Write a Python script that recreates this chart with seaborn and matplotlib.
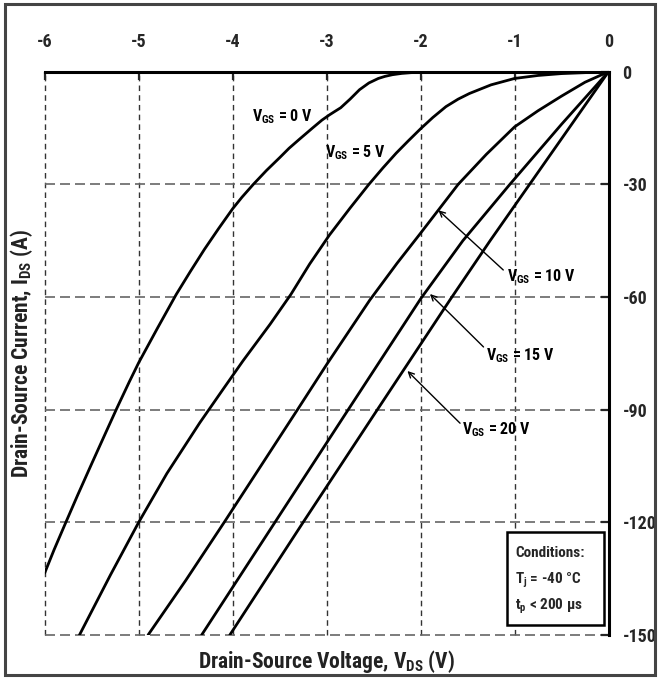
import numpy as np
import pandas as pd
import matplotlib
matplotlib.use("Agg")
import matplotlib.pyplot as plt
import seaborn as sns
from matplotlib.patches import Rectangle
from matplotlib import font_manager as fm

# ---------------- data ----------------
vds_0 = [0, -1.0, -1.6, -2.0, -2.1, -2.2, -2.3, -2.38, -2.45, -2.55, -2.65, -2.75, -2.85,
         -2.92, -2.97, -3.05, -3.15, -3.29, -3.4, -3.5, -3.64, -3.78, -3.9, -4.0, -4.15,
         -4.3, -4.45, -4.6, -4.8, -5.0, -5.1, -5.23, -5.35, -5.5, -5.65, -5.78, -5.9, -6.0]
ids_0 = [0, -0.03, -0.1, -0.2, -0.25, -0.45, -0.8, -1.25, -1.8, -3.0, -4.8, -7.3, -9.6,
         -10.7, -11.5, -12.9, -15.0, -18, -20.4, -22.9, -26.3, -30, -33.4, -36.5, -41.8,
         -47.3, -53.2, -59.3, -68.3, -77.5, -82.6, -89.5, -96.1, -104.4, -112.8, -120.3,
         -127.3, -133.5]

vds_5 = [0, -0.5, -0.75, -1.0, -1.25, -1.48, -1.6, -1.73, -1.87, -2.0, -2.13, -2.26,
         -2.4, -2.55, -2.75, -2.97, -3.18, -3.38, -3.6, -3.89, -4.1, -4.35, -4.7, -5.0,
         -5.3, -5.63]
ids_5 = [0, -0.5, -1.0, -1.8, -3.5, -5.8, -7.3, -9.3, -12.2, -15.2, -18.4, -21.7,
         -25.6, -30, -36.3, -43.5, -51.2, -59.3, -67.2, -77, -84.5, -93.5, -107, -120,
         -134, -150]

vds_10 = [0, -0.25, -0.5, -0.75, -1.0, -1.3, -1.6, -1.8, -2.0, -2.25, -2.54, -3.0,
          -3.31, -3.7, -4.09, -4.5, -4.9]
ids_10 = [0, -2.8, -6.5, -10.4, -14.7, -22, -30, -36.5, -43, -51, -60.8, -78,
          -90, -105, -120, -135.5, -150]

vds_15 = [0, -0.5, -1.05, -1.55, -2.0, -2.77, -3.55, -4.33]
ids_15 = [0, -14, -30, -45, -60.5, -90, -120, -150]

vds_20 = [0, -0.42, -0.84, -1.26, -1.68, -2.46, -3.25, -4.03]
ids_20 = [0, -15, -30, -45, -60.5, -90, -120, -150]

vgs_values = [0, 5, 10, 15, 20]
x_ticks = [-6, -5, -4, -3, -2, -1, 0]
y_ticks = [0, -30, -60, -90, -120, -150]


# ---------------- font choice (condensed look like the reference) ----------------
def pick_font():
    fl = fm.fontManager.ttflist
    names = {f.name for f in fl}
    for n in ["Liberation Sans Narrow", "Roboto Condensed", "Open Sans Condensed",
              "DejaVu Sans Condensed", "Noto Sans Condensed"]:
        if n in names:
            return n, "normal"
    for n in ["Open Sans", "Noto Sans", "DejaVu Sans"]:
        for f in fl:
            if f.name == n and "condensed" in str(f.stretch):
                return n, "condensed"
    return "Roboto", "normal"


FONT, STRETCH = pick_font()

sns.set_style("white")
plt.rcParams["font.family"] = [FONT, "DejaVu Sans"]
plt.rcParams["font.stretch"] = STRETCH
plt.rcParams["font.weight"] = "bold"
plt.rcParams["mathtext.default"] = "regular"

frames = []
for v, xs, ys in zip(vgs_values, [vds_0, vds_5, vds_10, vds_15, vds_20],
                     [ids_0, ids_5, ids_10, ids_15, ids_20]):
    frames.append(pd.DataFrame({"Vds": xs, "Ids": ys, "Vgs": v}))
df = pd.concat(frames, ignore_index=True)

fig = plt.figure(figsize=(6.6, 6.79), dpi=100)
ax = fig.add_axes([0.0677, 0.0648, 0.8543, 0.8296])

sns.lineplot(data=df, x="Vds", y="Ids", hue="Vgs", units="Vgs", estimator=None,
             sort=False, palette=["black"] * 5, linewidth=2.0, legend=False, ax=ax)

ax.set_xlim(-6, 0)
ax.set_ylim(-150, 0)
ax.xaxis.tick_top()
ax.yaxis.tick_right()
ax.set_xticks(x_ticks)
ax.set_yticks(y_ticks)
ax.set_xticklabels([str(t) for t in x_ticks], fontweight="bold", fontsize=13)
ax.set_yticklabels([str(t) for t in y_ticks], fontweight="bold", fontsize=13)
ax.tick_params(axis="x", direction="in", length=6, width=1.6, pad=15,
               top=True, bottom=False, labeltop=True, labelbottom=False)
ax.tick_params(axis="y", direction="in", length=6, width=1.6, pad=10,
               right=True, left=False, labelright=True, labelleft=False)
for t in ax.xaxis.get_major_ticks() + ax.yaxis.get_major_ticks():
    t.label1.set_fontweight("bold")
    t.label2.set_fontweight("bold")

ax.xaxis.set_label_position("bottom")
ax.yaxis.set_label_position("left")
ax.set_xlabel(r"Drain-Source Voltage, V$_{\mathregular{DS}}$ (V)", fontsize=15.5,
              fontweight="bold", labelpad=9, color="#222222")
ax.set_ylabel(r"Drain-Source Current, I$_{\mathregular{DS}}$ (A)", fontsize=15.5,
              fontweight="bold", labelpad=7, color="#222222")

# spines
for s in ["left", "bottom"]:
    ax.spines[s].set_visible(False)
for s in ["top", "right"]:
    ax.spines[s].set_linewidth(2.2)
    ax.spines[s].set_color("black")

# grid
ax.grid(False)
for xv in x_ticks[:-1]:
    ax.axvline(xv, color="#333333", lw=1.0, ls=(0, (4, 3)), zorder=0.5, clip_on=False)
for yv in y_ticks[1:]:
    ax.axhline(yv, color="#666666", lw=1.2, ls=(0, (6, 3)), zorder=0.5, clip_on=False)

# curve labels
lab_kw = dict(fontsize=11.5, fontweight="bold", ha="center", va="center", color="black")
ax.text(-3.47, -12, r"V$_{\mathregular{GS}}$ = 0 V", **lab_kw)
ax.text(-2.69, -21.5, r"V$_{\mathregular{GS}}$ = 5 V", **lab_kw)
ax.text(-0.71, -54.5, r"V$_{\mathregular{GS}}$ = 10 V", **lab_kw)
ax.text(-0.94, -75.6, r"V$_{\mathregular{GS}}$ = 15 V", **lab_kw)
ax.text(-1.19, -95.2, r"V$_{\mathregular{GS}}$ = 20 V", **lab_kw)

arr = dict(arrowstyle="->", color="black", lw=1.0, shrinkA=0, shrinkB=0)
ax.annotate("", xy=(-1.81, -36.9), xytext=(-1.12, -52.8), arrowprops=arr)
ax.annotate("", xy=(-1.90, -59.2), xytext=(-1.33, -73.3), arrowprops=arr)
ax.annotate("", xy=(-2.14, -79.7), xytext=(-1.58, -93.6), arrowprops=arr)

# conditions box
ax.add_patch(Rectangle((-1.08, -147.4), 1.03, 24.7, fill=True, facecolor="white",
                       edgecolor="black", lw=1.8, zorder=5))
ck = dict(fontsize=11, fontweight="bold", ha="left", va="center", zorder=6)
ax.text(-0.99, -128.2, "Conditions:", **ck)
ax.text(-0.99, -135.5, r"T$_{\mathregular{j}}$ = -40 °C", **ck)
ax.text(-0.99, -142.4, r"t$_{\mathregular{p}}$ < 200 µs", **ck)

# figure border
fig.patches.append(Rectangle((0.007, 0.006), 0.986, 0.988, transform=fig.transFigure,
                             fill=False, edgecolor="#444444", lw=2.2))

fig.savefig("out.png", dpi=100)
